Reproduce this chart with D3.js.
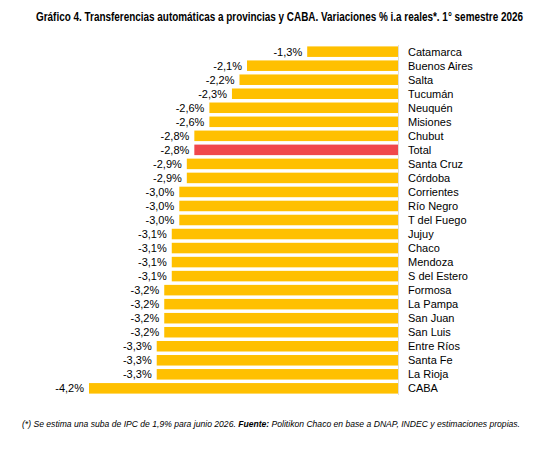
<!DOCTYPE html><html><head><meta charset="utf-8"><script src="https://cdn.jsdelivr.net/npm/d3@7"></script>
<style>body{margin:0;background:#fff}</style></head><body><svg id="c" width="558" height="450"></svg><script>
const categories=["Catamarca","Buenos Aires","Salta","Tucumán","Neuquén","Misiones","Chubut","Total","Santa Cruz","Córdoba","Corrientes","Río Negro","T del Fuego","Jujuy","Chaco","Mendoza","S del Estero","Formosa","La Pampa","San Juan","San Luis","Entre Ríos","Santa Fe","La Rioja","CABA"];
const values=[-1.3,-2.1,-2.2,-2.3,-2.6,-2.6,-2.8,-2.8,-2.9,-2.9,-3.0,-3.0,-3.0,-3.1,-3.1,-3.1,-3.1,-3.2,-3.2,-3.2,-3.2,-3.3,-3.3,-3.3,-4.2];
const svg=d3.select("#c");const F="'Liberation Sans',Arial,sans-serif";
const x=d3.scaleLinear().domain([0,-4.2]).range([405,89]);
const y=d3.scaleBand().domain(categories).range([45,395]).paddingInner(0.25).paddingOuter(0.1);
svg.append("text").attr("x",36).attr("y",21).attr("textLength",487).attr("lengthAdjust","spacingAndGlyphs").attr("font-family",F).attr("font-weight","bold").attr("font-size",12).text("Gráfico 4. Transferencias automáticas a provincias y CABA. Variaciones % i.a reales*. 1° semestre 2026");
const g=svg.append("g");
categories.forEach((c,i)=>{const v=values[i];const yy=y(c);
g.append("rect").attr("x",x(v)).attr("y",yy).attr("width",398-x(v)).attr("height",y.bandwidth()).attr("fill",c==="Total"?"#f0474b":"#ffc000");
g.append("text").attr("x",x(v)-5).attr("y",yy+y.bandwidth()/2).attr("dy","0.35em").attr("text-anchor","end").attr("font-family",F).attr("font-size",11).text(d3.format(".1f")(v).replace(".",",").replace("−","-")+"%");
g.append("text").attr("x",408).attr("y",yy+y.bandwidth()/2).attr("dy","0.35em").attr("font-family",F).attr("font-size",11).text(c);});
svg.append("line").attr("x1",398.5).attr("x2",398.5).attr("y1",45).attr("y2",395).attr("stroke","#ddd");
const ft=svg.append("text").attr("x",22).attr("y",427).attr("textLength",498).attr("lengthAdjust","spacingAndGlyphs").attr("font-family",F).attr("font-style","italic").attr("font-size",9.5);
ft.append("tspan").text("(*) Se estima una suba de IPC de 1,9% para junio 2026. ");
ft.append("tspan").attr("font-weight","bold").text("Fuente:");
ft.append("tspan").text(" Politikon Chaco en base a DNAP, INDEC y estimaciones propias.");
</script></body></html>
